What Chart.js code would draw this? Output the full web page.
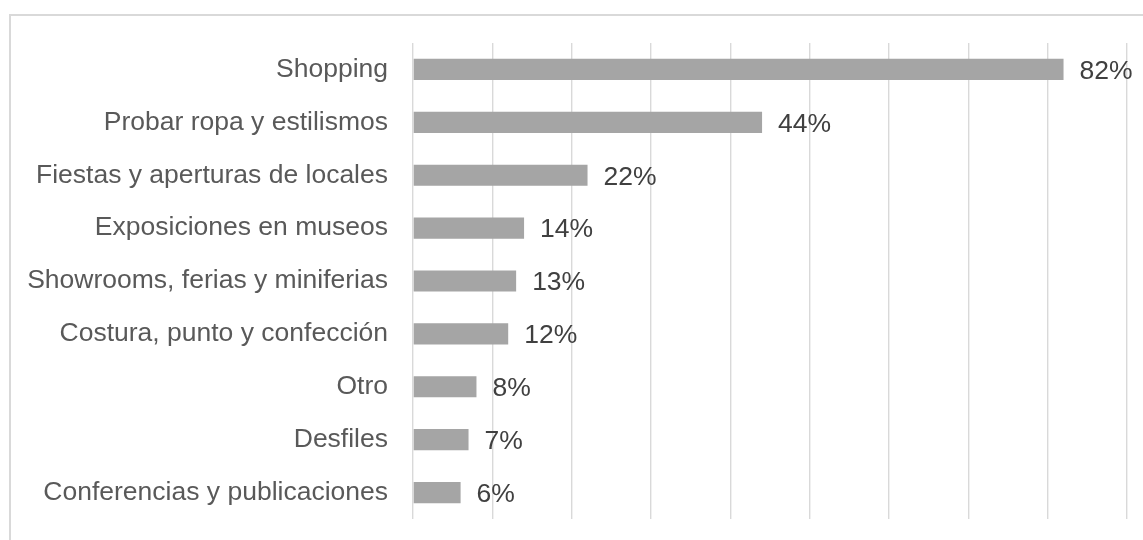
<!DOCTYPE html>
<html>
<head>
<meta charset="utf-8">
<script src="https://cdn.jsdelivr.net/npm/chart.js@4"></script>
<style>
  html, body { margin: 0; padding: 0; background: #fff; }
  body { width: 1143px; height: 540px; position: relative; overflow: hidden; }
  .marco {
    position: absolute; left: 9px; top: 14px; width: 1160px; height: 560px;
    border: 2px solid #d9d9d9; box-sizing: border-box;
  }
  #grafico { position: absolute; left: 0; top: 0; }
</style>
</head>
<body>
<div class="marco"></div>
<canvas id="grafico" width="1143" height="540"></canvas>
<script>
// Actividades y porcentaje de respuestas
const categorias = [
  'Shopping',
  'Probar ropa y estilismos',
  'Fiestas y aperturas de locales',
  'Exposiciones en museos',
  'Showrooms, ferias y miniferias',
  'Costura, punto y confección',
  'Otro',
  'Desfiles',
  'Conferencias y publicaciones'
];
const porcentajes = [82, 44, 22, 14, 13, 12, 8, 7, 6];
const ejeMax = 90;
const ejePaso = 10;

const fuente = '"Liberation Sans", Arial, sans-serif';

// etiqueta "NN%" a la derecha de cada barra
const etiquetasValor = {
  id: 'etiquetasValor',
  afterDatasetsDraw(chart) {
    const ctx = chart.ctx;
    const meta = chart.getDatasetMeta(0);
    ctx.save();
    ctx.font = '26.5px ' + fuente;
    ctx.fillStyle = '#404040';
    ctx.textAlign = 'left';
    ctx.textBaseline = 'middle';
    meta.data.forEach((bar, i) => {
      ctx.fillText(porcentajes[i] + '%', bar.x + 16, bar.y + 2);
    });
    ctx.restore();
  }
};

const grafico = new Chart(document.getElementById('grafico'), {
  type: 'bar',
  data: {
    labels: categorias,
    datasets: [{
      data: porcentajes,
      backgroundColor: '#a5a5a5',
      borderWidth: 0,
      categoryPercentage: 1,
      barPercentage: 0.4
    }]
  },
  options: {
    indexAxis: 'y',
    responsive: false,
    animation: false,
    layout: { padding: { top: 43, bottom: 21, right: 16, left: 0 } },
    plugins: { legend: { display: false }, tooltip: { enabled: false } },
    scales: {
      x: {
        min: 0,
        max: ejeMax,
        afterFit: (s) => { s.height = 0; s.paddingLeft = 0; s.paddingRight = 0; },
        ticks: { display: false, stepSize: ejePaso },
        grid: { color: '#d9d9d9', lineWidth: 1.4, drawTicks: false },
        border: { display: false }
      },
      y: {
        grid: { display: false, drawTicks: false },
        border: { display: false },
        afterFit: (s) => { s.width = 413; s.paddingTop = 0; s.paddingBottom = 0; },
        ticks: {
          color: '#595959',
          padding: 25,
          font: { size: 26.5, family: fuente }
        }
      }
    }
  },
  plugins: [etiquetasValor]
});
</script>
</body>
</html>
